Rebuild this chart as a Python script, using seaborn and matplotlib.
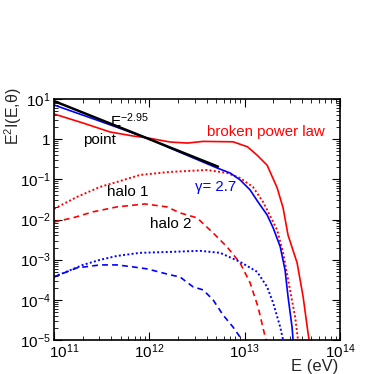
import numpy as np
import pandas as pd
import matplotlib
matplotlib.use('Agg')
import matplotlib.pyplot as plt
import matplotlib.transforms as mtransforms
import seaborn as sns
from matplotlib.ticker import LogLocator, FixedLocator, FixedFormatter, NullFormatter

# ---------------- data (E in eV, E^2 I(E,theta)) ----------------
black_E = [1.0e11, 1.0e12, 5.25e12]
black_F = [8.9, 1.0, 0.207]

point_E = [1.0e11, 3.04e11, 1.02e12, 1.65e12, 5.13e12, 7.03e12, 8.95e12, 1.14e13,
           1.38e13, 1.72e13, 1.99e13, 2.36e13, 2.65e13, 2.85e13, 3.14e13, 3.22e13]
point_F = [7.1, 2.8, 1.0, 0.60, 0.192, 0.144, 0.097, 0.0545,
           0.0274, 0.0130, 6.2e-3, 2.1e-3, 5.6e-4, 1.2e-4, 2.1e-5, 1.0e-5]

broken_E = [1.0e11, 2.01e11, 3.87e11, 6.75e11, 9.68e11, 1.65e12, 2.51e12, 3.66e12,
            7.55e12, 1.07e13, 1.35e13, 1.72e13, 2.19e13, 2.53e13, 2.85e13,
            3.55e13, 4.10e13, 4.62e13, 4.74e13]
broken_F = [4.24, 2.53, 1.51, 1.20, 1.07, 0.85, 0.80, 0.88,
            0.86, 0.646, 0.40, 0.225, 0.0617, 0.0194, 4.1e-3,
            8.3e-4, 1.2e-4, 1.5e-5, 1.0e-5]

halo1_red_E = [1.0e11, 1.74e11, 3.04e11, 4.58e11, 7.98e11, 1.65e12, 4.03e12, 6.53e12,
               8.95e12, 1.22e13, 1.56e13, 1.99e13, 2.19e13, 2.53e13, 2.99e13, 3.38e13, 3.63e13]
halo1_red_F = [0.0184, 0.0365, 0.0647, 0.086, 0.1285, 0.153, 0.171, 0.144,
               0.108, 0.0647, 0.0274, 8.7e-3, 5.5e-3, 1.48e-3, 1.77e-4, 3.8e-5, 1.0e-5]

halo2_red_E = [1.0e11, 1.58e11, 2.56e11, 4.58e11, 9.02e11, 1.53e12, 2.10e12, 3.16e12,
               4.66e12, 6.53e12, 8.95e12, 1.14e13, 1.38e13, 1.64e13, 1.68e13]
halo2_red_F = [8.7e-3, 0.011, 0.0155, 0.0206, 0.0244, 0.0206, 0.0146, 0.011,
               4.65e-3, 2.08e-3, 8.3e-4, 2.65e-4, 6.7e-5, 1.2e-5, 1.0e-5]

halo1_blue_E = [1.0e11, 2.01e11, 3.04e11, 4.58e11, 7.98e11, 1.65e12, 3.40e12, 5.52e12,
                8.95e12, 1.35e13, 1.72e13, 1.99e13, 2.36e13, 2.53e13]
halo1_blue_F = [3.73e-4, 7.4e-4, 9.9e-4, 1.24e-3, 1.48e-3, 1.56e-3, 1.66e-3, 1.48e-3,
                8.8e-4, 5.0e-4, 2.1e-4, 8.4e-5, 2.1e-5, 1.0e-5]

halo2_blue_E = [1.0e11, 1.74e11, 3.04e11, 4.58e11, 6.75e11, 9.46e11, 1.65e12, 2.10e12,
                2.88e12, 3.66e12, 4.66e12, 5.93e12, 7.55e12, 9.40e12]
halo2_blue_F = [3.73e-4, 6.25e-4, 7.4e-4, 7.4e-4, 6.6e-4, 5.9e-4, 4.2e-4, 3.7e-4,
                2.1e-4, 1.77e-4, 1.0e-4, 4.2e-5, 2.1e-5, 1.0e-5]

x_ticks = [1e11, 1e12, 1e13, 1e14]
x_ticklabels = [r'$\mathregular{10^{11}}$', r'$\mathregular{10^{12}}$',
                r'$\mathregular{10^{13}}$', r'$\mathregular{10^{14}}$']
y_ticks = [1e-5, 1e-4, 1e-3, 1e-2, 1e-1, 1, 10]
y_ticklabels = [r'$\mathregular{10^{-5}}$', r'$\mathregular{10^{-4}}$', r'$\mathregular{10^{-3}}$',
                r'$\mathregular{10^{-2}}$', r'$\mathregular{10^{-1}}$', '1', r'$\mathregular{10^{1}}$']

# ---------------- style ----------------
sns.set_style('ticks')
plt.rcParams['font.family'] = ['Liberation Sans', 'DejaVu Sans']
plt.rcParams['mathtext.fontset'] = 'custom'
plt.rcParams['mathtext.rm'] = 'Liberation Sans'
plt.rcParams['mathtext.it'] = 'Liberation Sans:italic'
plt.rcParams['mathtext.bf'] = 'Liberation Sans:bold'
plt.rcParams['axes.unicode_minus'] = False

fig = plt.figure(figsize=(3.9, 3.74), dpi=100)
fig.patch.set_facecolor('white')
ax = fig.add_axes([54/390, 34/374, 286/390, 241/374])

dash = (0, (3.5, 2.5))
dot = (0, (1, 1.2))
series = [
    (halo2_red_E, halo2_red_F, 'red', dash, 1.2),
    (halo1_red_E, halo1_red_F, 'red', dot, 1.4),
    (halo2_blue_E, halo2_blue_F, 'blue', dash, 1.2),
    (halo1_blue_E, halo1_blue_F, 'blue', dot, 1.4),
    (broken_E, broken_F, 'red', '-', 1.2),
    (point_E, point_F, 'blue', '-', 1.2),
    (black_E, black_F, 'black', '-', 1.8),
]
for E, F, c, ls, lw in series:
    df = pd.DataFrame({'E': E, 'F': F})
    sns.lineplot(data=df, x='E', y='F', ax=ax, color=c, linestyle=ls, linewidth=lw,
                 sort=False, estimator=None)

ax.set_xscale('log')
ax.set_yscale('log')
ax.set_xlim(1e11, 1e14)
ax.set_ylim(1e-5, 10)
ax.set_xlabel('')
ax.set_ylabel('')

ax.xaxis.set_major_locator(FixedLocator(x_ticks))
ax.xaxis.set_major_formatter(FixedFormatter(x_ticklabels))
ax.xaxis.set_minor_locator(LogLocator(base=10, subs=np.arange(2, 10), numticks=20))
ax.xaxis.set_minor_formatter(NullFormatter())
ax.yaxis.set_major_locator(FixedLocator(y_ticks))
ax.yaxis.set_major_formatter(FixedFormatter(y_ticklabels))
ax.yaxis.set_minor_locator(LogLocator(base=10, subs=np.arange(2, 10), numticks=20))
ax.yaxis.set_minor_formatter(NullFormatter())

ax.tick_params(which='both', direction='in', top=True, right=True, colors='black')
ax.tick_params(which='major', length=5.5, width=0.8, labelsize=11, pad=2.5)
ax.tick_params(axis='x', which='major', pad=1.5)
ax.tick_params(which='minor', length=3, width=0.6)
for s in ax.spines.values():
    s.set_linewidth(1.2)
    s.set_color('black')

# shift the first x label right, as in the reference
fig.canvas.draw()
first = ax.get_xticklabels()[0]
first.set_transform(first.get_transform() + mtransforms.ScaledTranslation(10/100, 0, fig.dpi_scale_trans))

# ---------------- text ----------------
ax.text(3.87e11, 2.0, r'$\mathregular{E^{-2.95}}$', fontsize=11, ha='left', va='baseline', color='black')
ax.text(2.01e11, 0.955, 'point', fontsize=11, ha='left', va='center', color='black')
ax.text(4.03e12, 1.51, 'broken power law', fontsize=10.8, ha='left', va='center', color='red')
fig.text(195/390, 1 - 187/374, 'γ= 2.7', fontsize=10.8, ha='left', va='center', color='blue')
ax.text(3.6e11, 0.0486, 'halo 1', fontsize=11, ha='left', va='center', color='black')
ax.text(1.02e12, 7.76e-3, 'halo 2', fontsize=11, ha='left', va='center', color='black')

fig.text(13/390, 1 - 116/374, r'$\mathregular{E^{2}}$I(E,θ)', rotation=90, fontsize=11.5,
         ha='center', va='center')
fig.text(338/390, 1 - 367/374, 'E (eV)', fontsize=12, ha='right', va='center')

fig.savefig('out.png', dpi=100, facecolor='white')
